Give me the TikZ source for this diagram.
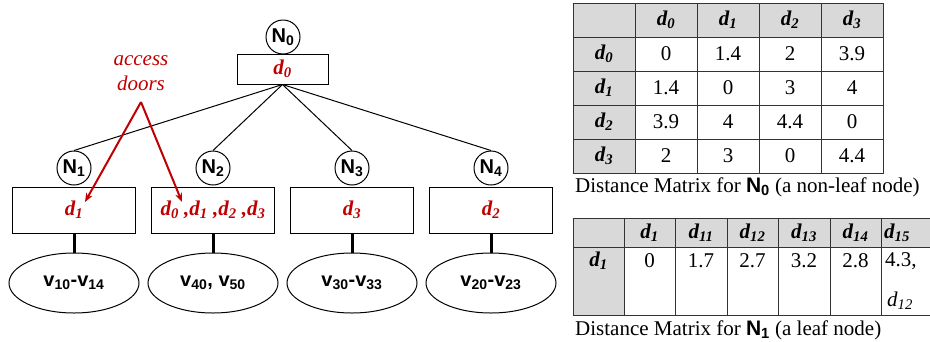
\documentclass[tikz,border=0pt]{standalone}
\usepackage{fontspec}
\setmainfont{Liberation Serif}
\setsansfont{Liberation Sans}
\usetikzlibrary{shapes.geometric,arrows.meta}
\definecolor{doorred}{RGB}{192,0,0}
\definecolor{cellgray}{RGB}{217,217,217}
\newcommand\cellsize{\fontsize{21}{25}\selectfont}
\newcommand\tagsize{\fontsize{20}{24}\selectfont}

\begin{document}
\begin{tikzpicture}[x=1pt,y=1pt]
		\tikzstyle{every node}+=[inner sep=0pt]
		\tikzstyle{tag}=[draw, circle, line width=1pt, minimum size=34pt, font=\tagsize\sffamily\bfseries]
		\tikzstyle{doorbox}=[draw, line width=1pt, minimum width=123pt, minimum height=46pt, text=doorred, font=\cellsize\bfseries\itshape]
		\tikzstyle{leaf}=[draw, ellipse, line width=1pt, minimum width=130pt, minimum height=60pt, font=\tagsize\sffamily\bfseries]
		\tikzstyle{cell}=[font=\cellsize]
		\tikzstyle{hcell}=[font=\cellsize\bfseries\itshape]
		\tikzstyle{grid}=[line width=1pt, black!80]
		\useasboundingbox (0,0) rectangle (930,-341);
		% tree
		\node [tag] (n0) at (283,-37) {N\textsubscript{0}};
		\node [doorbox, minimum width=91pt, minimum height=30pt] (b0) at (282.5,-69) {d\textsubscript{0}};
		\node [tag] (n1) at (74,-168) {N\textsubscript{1}};
		\node [tag] (n2) at (213,-168) {N\textsubscript{2}};
		\node [tag] (n3) at (352,-168) {N\textsubscript{3}};
		\node [tag] (n4) at (491,-168) {N\textsubscript{4}};
		\node [doorbox] (b1) at (74,-210) {d\textsubscript{1}};
		\node [doorbox] (b2) at (213,-210) {d\textsubscript{0} ,d\textsubscript{1} ,d\textsubscript{2} ,d\textsubscript{3}};
		\node [doorbox] (b3) at (352,-210) {d\textsubscript{3}};
		\node [doorbox] (b4) at (491,-210) {d\textsubscript{2}};
		\node [leaf] (v1) at (74,-283) {v\textsubscript{10}-v\textsubscript{14}};
		\node [leaf] (v2) at (213,-283) {v\textsubscript{40}, v\textsubscript{50}};
		\node [leaf] (v3) at (352,-283) {v\textsubscript{30}-v\textsubscript{33}};
		\node [leaf] (v4) at (491,-283) {v\textsubscript{20}-v\textsubscript{23}};
		\draw [line width=1pt] (b0.south) -- (n1.north);
		\draw [line width=1pt] (b0.south) -- (n2.north);
		\draw [line width=1pt] (b0.south) -- (n3.north);
		\draw [line width=1pt] (b0.south) -- (n4.north);
		\draw [line width=3pt] (b1) -- (v1);
		\draw [line width=3pt] (b2) -- (v2);
		\draw [line width=3pt] (b3) -- (v3);
		\draw [line width=3pt] (b4) -- (v4);
		% access doors
		\node [text=doorred, font=\cellsize\itshape, align=center] (acc) at (141,-73) {access\\doors};
		\coordinate (apex) at (141,-102);
		\coordinate (tip1) at (85,-202);
		\coordinate (tip2) at (182,-202);
		\draw [doorred, line width=2pt, -{Stealth[length=9pt,width=7pt]}] (apex) -- (tip1);
		\draw [doorred, line width=2pt, -{Stealth[length=9pt,width=7pt]}] (apex) -- (tip2);
		% distance matrix of N0
		\fill [cellgray] (573,-3) rectangle (883,-37);
		\fill [cellgray] (573,-37) rectangle (635,-173);
		\draw [grid] (573,-3) rectangle (883,-173);
		\draw [grid] (573,-37) -- (883,-37);
		\draw [grid] (573,-71) -- (883,-71);
		\draw [grid] (573,-105) -- (883,-105);
		\draw [grid] (573,-139) -- (883,-139);
		\draw [grid] (635,-3) -- (635,-173);
		\draw [grid] (697,-3) -- (697,-173);
		\draw [grid] (759,-3) -- (759,-173);
		\draw [grid] (821,-3) -- (821,-173);
		\node [hcell] (ph0) at (666,-20) {d\textsubscript{0}};
		\node [hcell] (ph1) at (728,-20) {d\textsubscript{1}};
		\node [hcell] (ph2) at (790,-20) {d\textsubscript{2}};
		\node [hcell] (ph3) at (852,-20) {d\textsubscript{3}};
		\node [hcell] (pr0) at (604,-54) {d\textsubscript{0}};
		\node [hcell] (pr1) at (604,-88) {d\textsubscript{1}};
		\node [hcell] (pr2) at (604,-122) {d\textsubscript{2}};
		\node [hcell] (pr3) at (604,-156) {d\textsubscript{3}};
		\node [cell] (p00) at (666,-54) {0};
		\node [cell] (p01) at (728,-54) {1.4};
		\node [cell] (p02) at (790,-54) {2};
		\node [cell] (p03) at (852,-54) {3.9};
		\node [cell] (p10) at (666,-88) {1.4};
		\node [cell] (p11) at (728,-88) {0};
		\node [cell] (p12) at (790,-88) {3};
		\node [cell] (p13) at (852,-88) {4};
		\node [cell] (p20) at (666,-122) {3.9};
		\node [cell] (p21) at (728,-122) {4};
		\node [cell] (p22) at (790,-122) {4.4};
		\node [cell] (p23) at (852,-122) {0};
		\node [cell] (p30) at (666,-156) {2};
		\node [cell] (p31) at (728,-156) {3};
		\node [cell] (p32) at (790,-156) {0};
		\node [cell] (p33) at (852,-156) {4.4};
		\node [cell, anchor=west] (pcap) at (575,-187) {Distance Matrix for {\sffamily\bfseries N\textsubscript{0}} (a non-leaf node)};
		% distance matrix of N1
		\fill [cellgray] (573,-218) rectangle (930,-247);
		\fill [cellgray] (573,-247) rectangle (624,-315);
		\draw [grid] (930,-218) -- (573,-218) -- (573,-315) -- (930,-315);
		\draw [grid] (573,-247) -- (930,-247);
		\draw [grid] (624,-218) -- (624,-315);
		\draw [grid] (675,-218) -- (675,-315);
		\draw [grid] (727,-218) -- (727,-315);
		\draw [grid] (778,-218) -- (778,-315);
		\draw [grid] (830,-218) -- (830,-315);
		\draw [grid] (881,-218) -- (881,-315);
		\node [hcell] (qh1) at (649.5,-233) {d\textsubscript{1}};
		\node [hcell] (qh11) at (701,-233) {d\textsubscript{11}};
		\node [hcell] (qh12) at (752.5,-233) {d\textsubscript{12}};
		\node [hcell] (qh13) at (804,-233) {d\textsubscript{13}};
		\node [hcell] (qh14) at (855.5,-233) {d\textsubscript{14}};
		\node [hcell] (qh15) at (897,-233) {d\textsubscript{15}};
		\node [hcell] (qr1) at (598.5,-261) {d\textsubscript{1}};
		\node [cell] (q1) at (649.5,-261) {0};
		\node [cell] (q11) at (701,-261) {1.7};
		\node [cell] (q12) at (752.5,-261) {2.7};
		\node [cell] (q13) at (804,-261) {3.2};
		\node [cell] (q14) at (855.5,-261) {2.8};
		\node [cell, anchor=west] (q15) at (885,-261) {4.3,};
		\node [cell, anchor=west] (q15b) at (887,-301) {\itshape d\textsubscript{12}};
		\node [cell, anchor=west] (qcap) at (575,-330) {Distance Matrix for {\sffamily\bfseries N\textsubscript{1}} (a leaf node)};
	\end{tikzpicture}
\end{document}
